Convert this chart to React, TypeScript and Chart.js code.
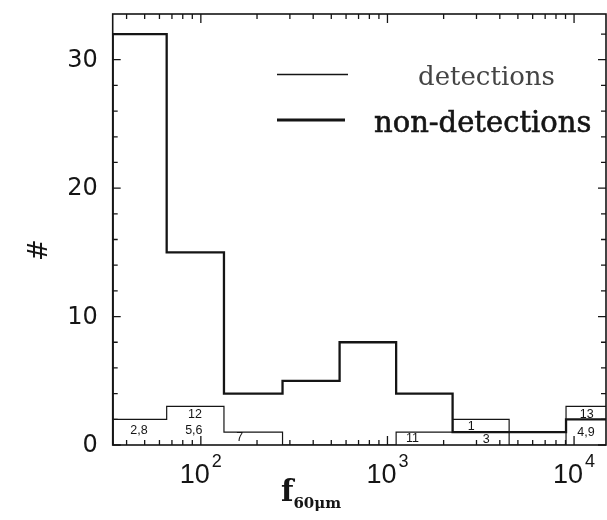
import React, { useEffect, useRef } from 'react';
import { Chart, registerables } from 'chart.js';

Chart.register(...registerables);

// ---- data ----
const binEdges = [33.7, 65.6, 133, 274, 554, 1113, 2234, 4488, 9057, 18200];
const nonDetections = [32, 15, 4, 5, 8, 4, 1, 1, 2];
const detections = [2, 3, 1, 0, 0, 1, 2, 0, 3];

const idLabels = ['2,8', '5,6', '12', '7', '11', '3', '1', '4,9', '13'];
const idLabelX = [46.6, 91.7, 93, 161.7, 1361, 3381, 2812, 11590, 11690];
const idLabelY = [1.09, 1.09, 2.41, 0.55, 0.47, 0.39, 1.4, 1.0, 2.4];

const xMajorTicks = [100, 1000, 10000];
const xTickExponents = ['2', '3', '4'];
const yMajorTicks = [0, 10, 20, 30];
const yMinorStep = 2;
const xMin = 33.7;
const xMax = 14830;
const yMax = 33.56;

const seriesNames = ['detections', 'non-detections'];

function outline(edges: number[], counts: number[]) {
  const pts: { x: number; y: number }[] = [{ x: edges[0], y: 0 }];
  counts.forEach((c, i) => {
    pts.push({ x: edges[i], y: c });
    pts.push({ x: edges[i + 1], y: c });
  });
  pts.push({ x: edges[edges.length - 1], y: 0 });
  return pts;
}

const INK = '#151515';

const decorPlugin = {
  id: 'decor',
  afterDatasetsDraw(chart: any) {
    const { ctx, chartArea: a, scales } = chart;
    const x = scales.x;
    const y = scales.y;
    ctx.save();
    ctx.strokeStyle = INK;
    ctx.fillStyle = INK;
    // frame
    ctx.lineWidth = 1.6;
    ctx.strokeRect(a.left, a.top, a.right - a.left, a.bottom - a.top);

    // x ticks (bottom & top, inward)
    ctx.lineWidth = 1.3;
    for (let d = 1; d <= 4; d++) {
      for (let m = 1; m <= 9; m++) {
        const v = m * Math.pow(10, d);
        if (v < xMin || v > xMax) continue;
        const px = x.getPixelForValue(v);
        const len = m === 1 ? 9 : 5;
        ctx.beginPath();
        ctx.moveTo(px, a.bottom);
        ctx.lineTo(px, a.bottom - len);
        ctx.moveTo(px, a.top);
        ctx.lineTo(px, a.top + len);
        ctx.stroke();
      }
    }
    // y ticks (left & right, inward)
    for (let v = 0; v <= yMax; v += yMinorStep) {
      const py = y.getPixelForValue(v);
      const len = v % 10 === 0 ? 8 : 5;
      ctx.beginPath();
      ctx.moveTo(a.left, py);
      ctx.lineTo(a.left + len, py);
      ctx.moveTo(a.right, py);
      ctx.lineTo(a.right - len, py);
      ctx.stroke();
    }

    // y tick labels
    ctx.font = '24px "DejaVu Sans", sans-serif';
    ctx.textAlign = 'right';
    ctx.textBaseline = 'middle';
    yMajorTicks.forEach((v) => {
      ctx.fillText(String(v), a.left - 15, y.getPixelForValue(v) + 1);
    });

    // x tick labels 10^n
    ctx.textAlign = 'left';
    ctx.textBaseline = 'alphabetic';
    xMajorTicks.forEach((v, i) => {
      const px = x.getPixelForValue(v);
      ctx.font = '27px "Liberation Sans", Arial, sans-serif';
      const w1 = ctx.measureText('10').width;
      ctx.font = '18px "Liberation Sans", Arial, sans-serif';
      const w2 = ctx.measureText(xTickExponents[i]).width;
      const start = px - (w1 + 2 + w2) / 2;
      ctx.font = '27px "Liberation Sans", Arial, sans-serif';
      ctx.fillText('10', start, a.bottom + 38);
      ctx.font = '18px "Liberation Sans", Arial, sans-serif';
      ctx.fillText(xTickExponents[i], start + w1 + 2, a.bottom + 22);
    });

    // x axis title f_60μm
    {
      ctx.font = 'bold 29px "DejaVu Serif", serif';
      const wf = ctx.measureText('f').width;
      ctx.font = 'bold 15px "DejaVu Serif", serif';
      const ws = ctx.measureText('60μm').width;
      const cx = 311;
      const start = cx - (wf + ws) / 2;
      ctx.font = 'bold 29px "DejaVu Serif", serif';
      ctx.fillText('f', start, 501);
      ctx.font = 'bold 15px "DejaVu Serif", serif';
      ctx.fillText('60μm', start + wf, 508);
    }

    // y axis title "#"
    ctx.save();
    ctx.translate(40, 250);
    ctx.rotate(-Math.PI / 2);
    ctx.font = '26px "DejaVu Sans", sans-serif';
    ctx.textAlign = 'center';
    ctx.textBaseline = 'middle';
    ctx.fillText('#', 0, 0);
    ctx.restore();

    // object id labels inside histogram boxes
    ctx.font = '12.5px "Liberation Sans", Arial, sans-serif';
    ctx.textAlign = 'center';
    ctx.textBaseline = 'middle';
    idLabels.forEach((t, i) => {
      ctx.fillText(t, x.getPixelForValue(idLabelX[i]), y.getPixelForValue(idLabelY[i]));
    });

    // legend
    ctx.lineWidth = 1.3;
    ctx.beginPath();
    ctx.moveTo(277, 74.5);
    ctx.lineTo(348, 74.5);
    ctx.stroke();
    ctx.lineWidth = 3;
    ctx.beginPath();
    ctx.moveTo(277, 120);
    ctx.lineTo(345, 120);
    ctx.stroke();
    ctx.textAlign = 'left';
    ctx.textBaseline = 'alphabetic';
    ctx.font = '26px "DejaVu Serif", serif';
    ctx.fillStyle = '#444';
    ctx.fillText(seriesNames[0], 418, 85);
    ctx.fillStyle = INK;
    ctx.strokeStyle = INK;
    ctx.lineWidth = 0.6;
    ctx.font = '29px "DejaVu Serif", serif';
    ctx.fillText(seriesNames[1], 374, 132);
    ctx.strokeText(seriesNames[1], 374, 132);

    ctx.restore();
  },
};

export default function App() {
  const ref = useRef<HTMLCanvasElement | null>(null);
  useEffect(() => {
    if (!ref.current) return;
    const chart = new Chart(ref.current, {
      type: 'scatter',
      data: {
        datasets: [
          {
            label: seriesNames[1],
            data: outline(binEdges, nonDetections),
            showLine: true,
            borderColor: INK,
            borderWidth: 2.3,
            pointRadius: 0,
            fill: false,
          },
          {
            label: seriesNames[0],
            data: outline(binEdges, detections),
            showLine: true,
            borderColor: INK,
            borderWidth: 1.2,
            pointRadius: 0,
            fill: false,
          },
        ],
      },
      options: {
        responsive: false,
        animation: false,
        events: [],
        layout: { padding: { left: 112.7, top: 14, right: 1, bottom: 75 } },
        plugins: { legend: { display: false }, tooltip: { enabled: false } },
        scales: {
          x: { type: 'logarithmic', min: xMin, max: xMax, display: false },
          y: { type: 'linear', min: 0, max: yMax, display: false },
        },
      },
      plugins: [decorPlugin],
    } as any);
    return () => chart.destroy();
  }, []);
  return (
    <div style={{ position: 'fixed', left: 0, top: 0, width: 607, height: 520, background: '#fff' }}>
      <canvas ref={ref} width={607} height={520} style={{ display: 'block' }} />
    </div>
  );
}
